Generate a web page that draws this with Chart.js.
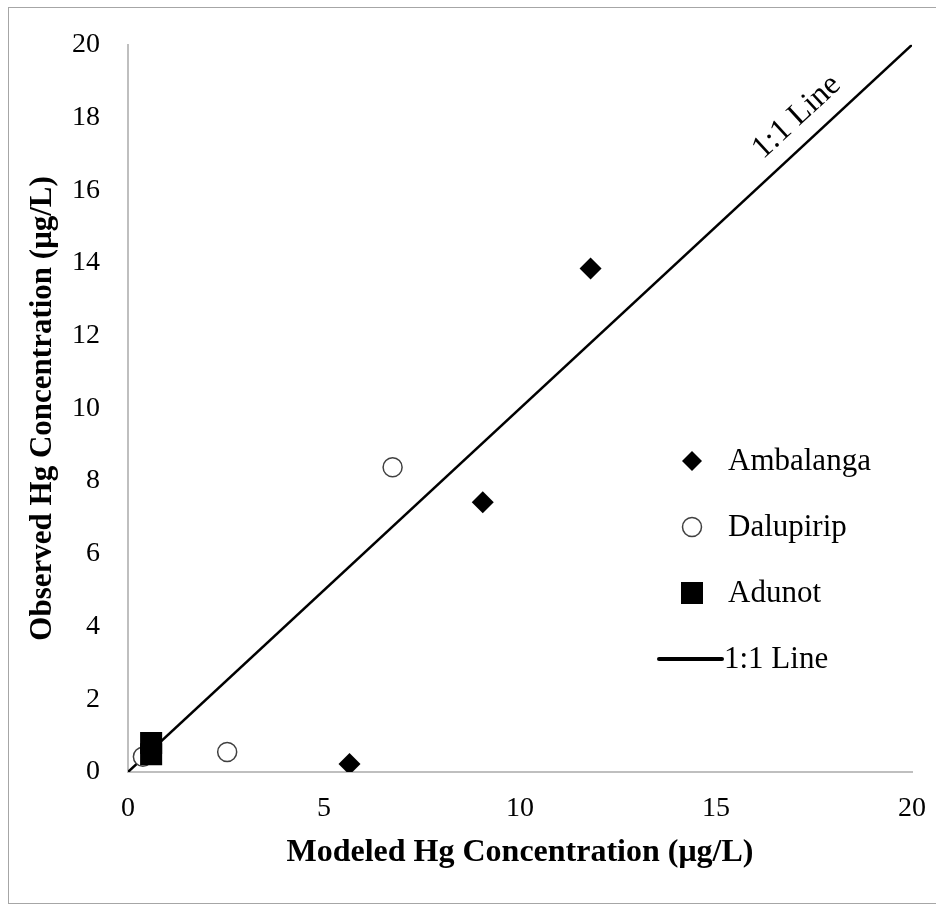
<!DOCTYPE html>
<html>
<head>
<meta charset="utf-8">
<script src="https://cdn.jsdelivr.net/npm/chart.js@4.4.1/dist/chart.umd.min.js"></script>
<style>
  html, body { margin: 0; padding: 0; background: #fff; }
  #wrap { width: 936px; height: 908px; }
</style>
</head>
<body>
<div id="wrap"><canvas id="hgChart" width="936" height="908"></canvas></div>
<script>
// values (ug/L)
const ambalangaX = [5.65, 9.05, 11.8];
const ambalangaY = [0.22, 7.42, 13.85];
const dalupiripX = [0.38, 2.53, 6.75];
const dalupiripY = [0.42, 0.55, 8.38];
const adunotX = [0.59, 0.59];
const adunotY = [0.80, 0.49];
const oneToOneX = [0, 20];
const oneToOneY = [0, 20];
const xTicks = [0, 5, 10, 15, 20];
const yTicks = [0, 2, 4, 6, 8, 10, 12, 14, 16, 18, 20];

const serif = "'Liberation Serif', 'Times New Roman', serif";

function toPoints(xs, ys) {
    return xs.map((x, i) => ({ x: x, y: ys[i] }));
}

// grey frame round the whole figure
const framePlugin = {
    id: 'frame',
    beforeDraw(chart) {
        const c = chart.ctx;
        c.save();
        c.fillStyle = '#ffffff';
        c.fillRect(0, 0, chart.width, chart.height);
        c.strokeStyle = '#a6a6a6';
        c.lineWidth = 1;
        c.strokeRect(8.5, 7.5, 940, 896);
        c.restore();
    }
};

// rotated "1:1 Line" text sitting on the diagonal
const lineLabelPlugin = {
    id: 'lineLabel',
    afterDatasetsDraw(chart) {
        const c = chart.ctx;
        const sx = chart.scales.x, sy = chart.scales.y;
        const x0 = sx.getPixelForValue(0), y0 = sy.getPixelForValue(0);
        const x1 = sx.getPixelForValue(20), y1 = sy.getPixelForValue(20);
        const ang = Math.atan2(y1 - y0, x1 - x0);
        c.save();
        c.translate(sx.getPixelForValue(17.5), sy.getPixelForValue(17.5));
        c.rotate(ang);
        c.font = '32px ' + serif;
        c.fillStyle = '#000';
        c.textAlign = 'center';
        c.textBaseline = 'alphabetic';
        c.fillText('1:1 Line', 0, -17);
        c.restore();
    }
};

// legend inside the plot area, drawn from the dataset styles
const legendPlugin = {
    id: 'sideLegend',
    afterDraw(chart) {
        const c = chart.ctx;
        const markX = 692, textX = 728, firstY = 461, step = 66;
        c.save();
        c.font = '31px ' + serif;
        c.textBaseline = 'middle';
        c.textAlign = 'left';
        chart.data.datasets.forEach((ds, i) => {
            const y = firstY + i * step;
            if (ds.showLine) {
                c.strokeStyle = ds.borderColor;
                c.lineWidth = 4;
                c.lineCap = 'round';
                c.beginPath();
                c.moveTo(659, y);
                c.lineTo(722, y);
                c.stroke();
                c.fillStyle = '#000';
                c.fillText(ds.label, 724, y + 1);
                return;
            }
            c.fillStyle = ds.backgroundColor;
            c.strokeStyle = ds.borderColor;
            c.lineWidth = ds.borderWidth;
            Chart.helpers.drawPoint(c, {
                pointStyle: ds.pointStyle,
                radius: ds.legendRadius,
                rotation: 0,
                borderWidth: ds.borderWidth
            }, markX, y);
            c.fillStyle = '#000';
            c.fillText(ds.label, textX, y + 1);
        });
        c.restore();
    }
};

const ctx = document.getElementById('hgChart').getContext('2d');
const hgChart = new Chart(ctx, {
    type: 'scatter',
    data: {
        datasets: [{
            label: 'Ambalanga',
            data: toPoints(ambalangaX, ambalangaY),
            pointStyle: 'rectRot',
            pointRadius: 11,
            legendRadius: 10,
            backgroundColor: '#000000',
            borderColor: '#000000',
            borderWidth: 0,
            order: 0
        }, {
            label: 'Dalupirip',
            data: toPoints(dalupiripX, dalupiripY),
            pointStyle: 'circle',
            pointRadius: 9.5,
            legendRadius: 9.5,
            backgroundColor: '#ffffff',
            borderColor: '#404040',
            borderWidth: 1.5,
            order: 2
        }, {
            label: 'Adunot',
            data: toPoints(adunotX, adunotY),
            pointStyle: 'rect',
            pointRadius: 15.6,
            legendRadius: 15.6,
            backgroundColor: '#000000',
            borderColor: '#000000',
            borderWidth: 0,
            order: 1
        }, {
            type: 'line',
            label: '1:1 Line',
            data: toPoints(oneToOneX, oneToOneY),
            showLine: true,
            borderColor: '#000000',
            borderWidth: 2.5,
            pointRadius: 0,
            fill: false,
            order: 3
        }]
    },
    options: {
        responsive: false,
        animation: false,
        layout: { padding: { top: 44, right: 24, left: 0, bottom: 0 } },
        plugins: {
            legend: { display: false },
            tooltip: { enabled: false }
        },
        scales: {
            x: {
                type: 'linear',
                min: 0,
                max: 20,
                afterBuildTicks: s => { s.ticks = xTicks.map(v => ({ value: v })); },
                afterFit: s => {
                    s.height = 136;
                    s.paddingLeft = 0;
                    s.paddingRight = 14;
                },
                grid: { display: false, drawTicks: false },
                border: { display: true, color: '#bfbfbf', width: 2 },
                ticks: { color: '#000', padding: 20, font: { family: serif, size: 28 } },
                title: {
                    display: true,
                    text: 'Modeled Hg Concentration (μg/L)',
                    color: '#000',
                    padding: { top: 0, bottom: 36 },
                    font: { family: serif, size: 32, weight: 'bold' }
                }
            },
            y: {
                type: 'linear',
                min: 0,
                max: 20,
                afterBuildTicks: s => { s.ticks = yTicks.map(v => ({ value: v })); },
                afterFit: s => { s.width = 128; },
                grid: { display: false, drawTicks: false },
                border: { display: true, color: '#bfbfbf', width: 2 },
                ticks: { color: '#000', padding: 28, font: { family: serif, size: 28 } },
                title: {
                    display: true,
                    text: 'Observed Hg Concentration (μg/L)',
                    color: '#000',
                    padding: { top: 24, bottom: 0 },
                    font: { family: serif, size: 31, weight: 'bold' }
                }
            }
        }
    },
    plugins: [framePlugin, lineLabelPlugin, legendPlugin]
});
</script>
</body>
</html>
